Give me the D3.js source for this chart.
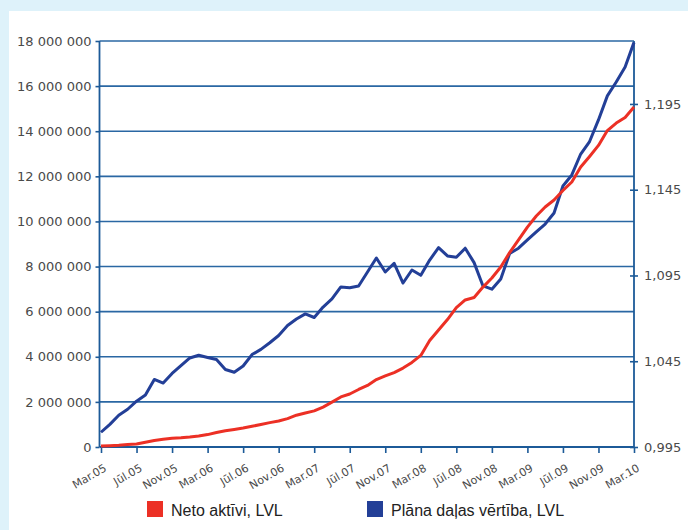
<!DOCTYPE html>
<html>
<head>
<meta charset="utf-8">
<script src="https://cdn.jsdelivr.net/npm/d3@7"></script>
<style>
  body { margin: 0; background: #def2fa; }
  svg { display: block; }
</style>
</head>
<body>
<svg width="688" height="530"></svg>
<script>
// tick labels on the x axis (every 4th month, Mar.05 .. Mar.10)
var tickLabels = ["Mar.05", "Jūl.05", "Nov.05", "Mar.06", "Jūl.06", "Nov.06", "Mar.07", "Jūl.07",
                  "Nov.07", "Mar.08", "Jūl.08", "Nov.08", "Mar.09", "Jūl.09", "Nov.09", "Mar.10"]

// monthly values, Mar.05 .. Mar.10 (61 months)
// Neto aktīvi, LVL (left axis)
var netAssets = [0.04e6, 0.06e6, 0.08e6, 0.11e6, 0.13e6, 0.21e6, 0.29e6, 0.34e6, 0.39e6, 0.41e6,
                 0.44e6, 0.49e6, 0.55e6, 0.64e6, 0.72e6, 0.78e6, 0.84e6, 0.92e6, 1.00e6, 1.08e6,
                 1.15e6, 1.26e6, 1.41e6, 1.51e6, 1.60e6, 1.77e6, 1.99e6, 2.22e6, 2.35e6, 2.55e6,
                 2.73e6, 2.99e6, 3.15e6, 3.30e6, 3.50e6, 3.75e6, 4.06e6, 4.72e6, 5.19e6, 5.65e6,
                 6.18e6, 6.52e6, 6.63e6, 7.09e6, 7.49e6, 7.98e6, 8.62e6, 9.18e6, 9.75e6, 10.24e6,
                 10.64e6, 10.95e6, 11.37e6, 11.75e6, 12.41e6, 12.88e6, 13.37e6, 14.03e6, 14.36e6, 14.61e6,
                 15.07e6]

// Plāna daļas vērtība, LVL (right axis)
var unitValue = [1.0036, 1.0082, 1.0135, 1.0170, 1.0217, 1.0253, 1.0344, 1.0323, 1.0379, 1.0425,
                 1.0469, 1.0485, 1.0472, 1.0460, 1.0402, 1.0386, 1.0422, 1.0489, 1.0519, 1.0558,
                 1.0600, 1.0658, 1.0696, 1.0726, 1.0705, 1.0766, 1.0813, 1.0883, 1.0879, 1.0889,
                 1.0970, 1.1052, 1.0970, 1.1021, 1.0906, 1.0982, 1.0951, 1.1040, 1.1112, 1.1064,
                 1.1056, 1.1109, 1.1025, 1.0889, 1.0870, 1.0930, 1.1078, 1.1109, 1.1157, 1.1204,
                 1.1250, 1.1314, 1.1472, 1.1536, 1.1658, 1.1731, 1.1857, 1.1997, 1.2078, 1.2166,
                 1.2309]

var leftTicks = [0, 2e6, 4e6, 6e6, 8e6, 10e6, 12e6, 14e6, 16e6, 18e6]
var rightTicks = [0.995, 1.045, 1.095, 1.145, 1.195]

var seriesNames = ["Neto aktīvi, LVL", "Plāna daļas vērtība, LVL"]
var seriesColors = ["#ec3025", "#233f97"]

var svg = d3.select("svg")

// white panel
svg.append("rect")
    .attr("x", 9).attr("y", 11)
    .attr("width", 688 - 9).attr("height", 530 - 11)
    .attr("fill", "#fff")

var pLeft = 99.5, pRight = 634, pTop = 41, pBottom = 447
var axisColor = "#1c5a98"

var x = d3.scaleLinear().domain([0, netAssets.length - 1]).range([pLeft + 1.5, pRight])
var yL = d3.scaleLinear().domain([0, 18e6]).range([pBottom, pTop])
var yR = d3.scaleLinear().domain([0.995, 1.2317]).range([pBottom, pTop])

// grid lines
svg.append("g")
    .selectAll("line")
    .data(leftTicks.slice(1))
    .enter()
    .append("line")
    .attr("x1", pLeft).attr("x2", pRight)
    .attr("y1", function (d) { return yL(d) })
    .attr("y2", function (d) { return yL(d) })
    .attr("stroke", "#2a67a3")
    .attr("stroke-width", 1.6)

// left axis
var yAxisL = d3.axisLeft(yL)
    .tickValues(leftTicks)
    .tickSize(4)
    .tickPadding(4)
    .tickFormat(function (d) { return d3.format(",")(d).replace(/,/g, " ") })

var gL = svg.append("g")
    .attr("transform", "translate(" + pLeft + ",0)")
    .call(yAxisL)
gL.select(".domain").attr("stroke", axisColor).attr("stroke-width", 1.8).attr("d", "M0," + pTop + "V" + pBottom)
gL.selectAll(".tick line").attr("stroke", axisColor).attr("stroke-width", 1.6)
gL.selectAll("text").attr("fill", "#4a4a4a").style("font", "13px 'DejaVu Sans'")

// right axis
var yAxisR = d3.axisRight(yR)
    .tickValues(rightTicks)
    .tickSize(4)
    .tickPadding(6)
    .tickFormat(function (d) { return d3.format(".3f")(d).replace(".", ",") })

var gR = svg.append("g")
    .attr("transform", "translate(" + pRight + ",0)")
    .call(yAxisR)
gR.select(".domain").attr("stroke", axisColor).attr("stroke-width", 1.8).attr("d", "M0," + pTop + "V" + pBottom)
gR.selectAll(".tick line").attr("stroke", axisColor).attr("stroke-width", 1.6).attr("x1", -4)
gR.selectAll("text").attr("fill", "#4a4a4a").style("font", "13px 'DejaVu Sans'")

// x axis
var xAxis = d3.axisBottom(x)
    .tickValues(d3.range(0, netAssets.length, 4))
    .tickSize(6)
    .tickFormat(function (d, i) { return tickLabels[i] })

var gX = svg.append("g")
    .attr("transform", "translate(0," + pBottom + ")")
    .call(xAxis)
gX.select(".domain").attr("stroke", axisColor).attr("stroke-width", 2).attr("d", "M" + pLeft + ",0H" + pRight)
gX.selectAll(".tick line").attr("stroke", axisColor).attr("stroke-width", 1.6)
gX.selectAll("text")
    .attr("fill", "#4a4a4a")
    .style("font", "11px 'DejaVu Sans'")
    .attr("text-anchor", "end")
    .attr("x", 0).attr("y", 0).attr("dy", "0.35em")
    .attr("transform", "translate(4,20) rotate(-30)")

// lines
var lineR = d3.line()
    .x(function (d, i) { return x(i) })
    .y(function (d) { return yR(d) })
var lineL = d3.line()
    .x(function (d, i) { return x(i) })
    .y(function (d) { return yL(d) })

svg.append("path")
    .datum(unitValue)
    .attr("d", lineR)
    .attr("fill", "none")
    .attr("stroke", seriesColors[1])
    .attr("stroke-width", 3)
    .attr("stroke-linejoin", "round")

svg.append("path")
    .datum(netAssets)
    .attr("d", lineL)
    .attr("fill", "none")
    .attr("stroke", seriesColors[0])
    .attr("stroke-width", 3)
    .attr("stroke-linejoin", "round")

// legend
var legendX = [147, 367]
var lg = svg.selectAll(".legend")
    .data(seriesNames)
    .enter()
    .append("g")
    .attr("class", "legend")
    .attr("transform", function (d, i) { return "translate(" + legendX[i] + ",501)" })

lg.append("rect")
    .attr("width", 16).attr("height", 16)
    .attr("fill", function (d, i) { return seriesColors[i] })

lg.append("text")
    .attr("x", 24).attr("y", 15)
    .attr("fill", "#222")
    .style("font", "16px 'Liberation Sans'")
    .text(function (d) { return d })
</script>
</body>
</html>
